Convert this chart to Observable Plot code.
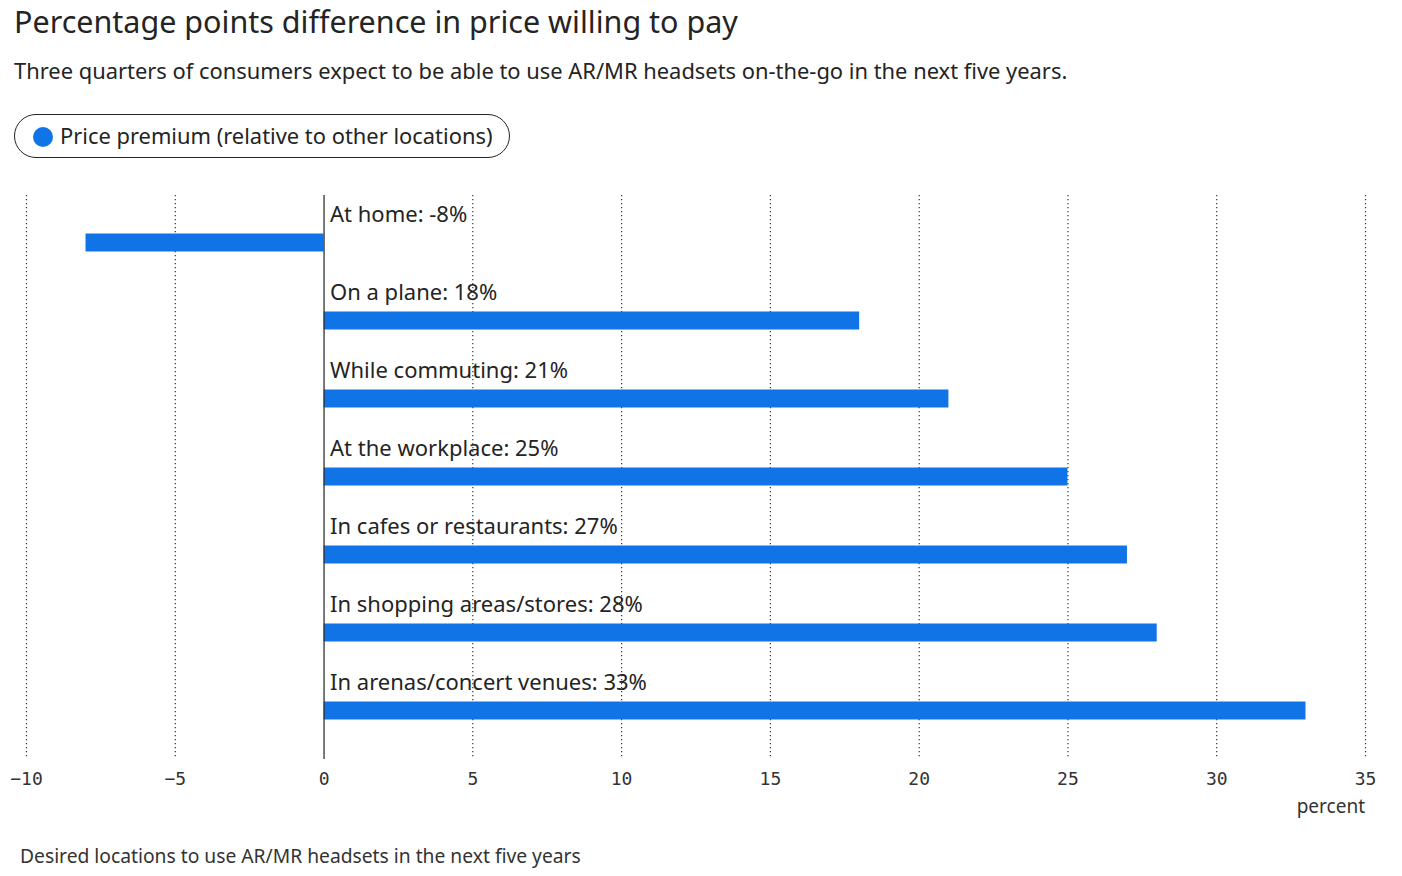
<!DOCTYPE html>
<html>
<head>
<meta charset="utf-8">
<script src="https://cdn.jsdelivr.net/npm/d3@7"></script>
<script src="https://cdn.jsdelivr.net/npm/@observablehq/plot@0.6"></script>
<style>
  html, body { margin: 0; padding: 0; background: #fff; }
  body { width: 1402px; height: 876px; position: relative; font-family: "Noto Sans", sans-serif; color: #242424; overflow: hidden; }
  #title { position: absolute; left: 14px; top: 1px; font-size: 30.5px; line-height: 40px; white-space: nowrap; }
  #subtitle { position: absolute; left: 14px; top: 56px; font-size: 21.9px; line-height: 30px; white-space: nowrap; }
  #legend { position: absolute; left: 14px; top: 114px; width: 494px; height: 42px; border: 1px solid #242424; border-radius: 22px; box-sizing: content-box; }
  #legend .dot { position: absolute; left: 18px; top: 12px; width: 20px; height: 20px; border-radius: 50%; background: #1174E6; }
  #legend .lbl { position: absolute; left: 45px; top: 6px; font-size: 21.9px; line-height: 30px; white-space: nowrap; }
  #chart { position: absolute; left: 0; top: 185px; }
  #unit { position: absolute; right: 37px; top: 793px; font-size: 19px; line-height: 26px; white-space: nowrap; color: #333; }
  #caption { position: absolute; left: 20px; top: 843px; font-size: 19.25px; line-height: 26px; white-space: nowrap; color: #333; }
</style>
</head>
<body>
<div id="title">Percentage points difference in price willing to pay</div>
<div id="subtitle">Three quarters of consumers expect to be able to use AR/MR headsets on-the-go in the next five years.</div>
<div id="legend"><span class="dot"></span><span class="lbl">Price premium (relative to other locations)</span></div>
<div id="chart"></div>
<div id="unit">percent</div>
<div id="caption">Desired locations to use AR/MR headsets in the next five years</div>
<script>
const locations = ["At home", "On a plane", "While commuting", "At the workplace", "In cafes or restaurants", "In shopping areas/stores", "In arenas/concert venues"];
const premium = [-8, 18, 21, 25, 27, 28, 33];
const xTicks = [-10, -5, 0, 5, 10, 15, 20, 25, 30, 35];

const data = locations.map((loc, i) => ({loc, value: premium[i], label: `${loc}: ${premium[i]}%`}));

const chart = Plot.plot({
  width: 1402,
  height: 645,
  marginTop: 10,
  marginBottom: 71,
  marginLeft: 26,
  marginRight: 37,
  style: {fontFamily: "'DejaVu Sans Mono', monospace", fontSize: "18px", color: "#333", background: "transparent"},
  x: {domain: [-10, 35], ticks: xTicks, tickSize: 0, tickPadding: 13, label: null},
  y: {domain: locations, axis: null, paddingInner: 0, paddingOuter: 0.115},
  marks: [
    Plot.ruleX(xTicks.filter(d => d !== 0), {stroke: "#333", strokeWidth: 1.2, strokeDasharray: "1.2,2.8", strokeOpacity: 1}),
    Plot.barX(data, {x1: 0, x2: "value", y: "loc", fill: "#1174E6", insetTop: 29.5, insetBottom: 30.5}),
    Plot.ruleX([0], {stroke: "#333", strokeWidth: 1.3}),
    Plot.text(data, {x: 0, y: "loc", text: "label", textAnchor: "start", dx: 6, dy: -29, fontFamily: "'Noto Sans', sans-serif", fontSize: 22, fill: "#242424"})
  ]
});
document.getElementById("chart").appendChild(chart);
</script>
</body>
</html>
